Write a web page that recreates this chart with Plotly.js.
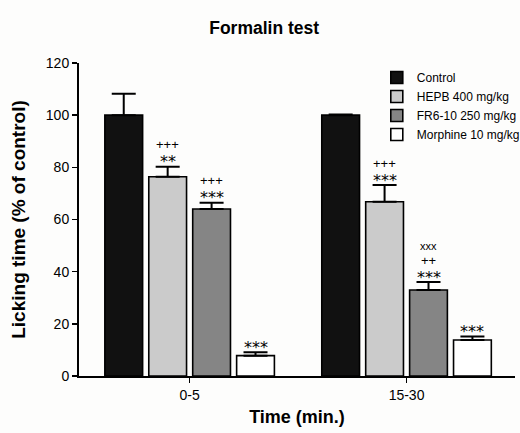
<!DOCTYPE html>
<html>
<head>
<meta charset="utf-8">
<script src="https://cdn.plot.ly/plotly-3.0.1.min.js"></script>
<style>html,body{margin:0;padding:0;background:#fdfdfc;}#chart{width:520px;height:433px;}</style>
</head>
<body>
<div id="chart"></div>
<script>
// ---- data ----
const categories = ['0-5', '15-30'];
const seriesNames = ['Control', 'HEPB 400 mg/kg', 'FR6-10 250 mg/kg', 'Morphine 10 mg/kg'];
const controlMean = [100, 100];
const controlErr = [8.2, 0.3];
const hepbMean = [76.4, 66.8];
const hepbErr = [3.8, 6.4];
const frMean = [64.0, 33.0];
const frErr = [2.4, 3.0];
const morphMean = [7.8, 13.8];
const morphErr = [1.3, 1.3];
// significance marks per series, per category
const starMarks = [['', ''], ['**', '***'], ['***', '***'], ['***', '***']];
const plusMarks = [['', ''], ['+++', '+++'], ['+++', '++'], ['', '']];
const xMarks = [['', ''], ['', ''], ['', 'xxx'], ['', '']];
const yTickVals = [0, 20, 40, 60, 80, 100, 120];

const means = [controlMean, hepbMean, frMean, morphMean];
const errs = [controlErr, hepbErr, frErr, morphErr];
const fills = ['#111111', '#cbcbcb', '#858585', '#ffffff'];
const FONT = 'Liberation Sans, Arial, sans-serif';

const traces = means.map((m, i) => ({
  type: 'bar',
  name: seriesNames[i],
  x: categories,
  y: m,
  marker: {color: fills[i], line: {color: '#000', width: 1.6}},
  error_y: {type: 'data', symmetric: false, array: errs[i], arrayminus: [0, 0],
            color: '#000', thickness: 2, width: 12}
}));

const W = 520, H = 433;
const margin = {l: 79, r: 5, t: 63, b: 57, autoexpand: false};
const plotW = W - margin.l - margin.r;
const bargap = 0.19;
const slotPx = plotW / 2.01 * (1 - bargap) / 4; // pixel width per bar slot

const annotations = [];
function addMarks(arr, shift, font) {
  arr.forEach((row, i) => row.forEach((txt, j) => {
    if (!txt) return;
    annotations.push({
      x: categories[j], y: means[i][j] + errs[i][j], xref: 'x', yref: 'y',
      text: txt, showarrow: false, yanchor: 'middle', borderpad: 0,
      xshift: (i - 1.5) * slotPx, yshift: shift, font: font
    });
  }));
}
addMarks(starMarks, 5, {family: 'DejaVu Sans, sans-serif', size: 16, color: '#000'});
addMarks(plusMarks, 22, {family: FONT, size: 13, color: '#000'});
addMarks(xMarks, 36, {family: FONT, size: 11, color: '#000'});

const layout = {
  width: W, height: H, margin: margin,
  paper_bgcolor: '#fdfdfc', plot_bgcolor: '#fdfdfc',
  font: {family: FONT, color: '#000'},
  title: {text: '<b>Formalin test</b>', font: {size: 17.5, family: FONT, color: '#000'},
          xref: 'container', x: 0.508, y: 0.935, yanchor: 'middle'},
  barmode: 'group', bargap: bargap, bargroupgap: 0.14,
  xaxis: {
    range: [-0.51, 1.5], showline: true, linecolor: '#000', linewidth: 2,
    ticks: 'outside', ticklen: 5, tickwidth: 1.5, tickcolor: '#000',
    tickfont: {size: 14}, showgrid: false, zeroline: false,
    title: {text: '<b>Time (min.)</b>', font: {size: 18}, standoff: 9}
  },
  yaxis: {
    range: [0, 120], tickvals: yTickVals, showline: true, linecolor: '#000', linewidth: 2,
    ticks: 'outside', ticklen: 5, tickwidth: 1.5, tickcolor: '#000',
    tickfont: {size: 14}, showgrid: false, zeroline: false,
    title: {text: '<b>Licking time (% of control)</b>', font: {size: 19}, standoff: 15}
  },
  legend: {x: 0.683, y: 1.0, xanchor: 'left', yanchor: 'top', bgcolor: 'rgba(0,0,0,0)',
           font: {size: 12}, traceorder: 'normal'},
  annotations: annotations,
  showlegend: true
};

Plotly.newPlot('chart', traces, layout, {staticPlot: true});
</script>
</body>
</html>
